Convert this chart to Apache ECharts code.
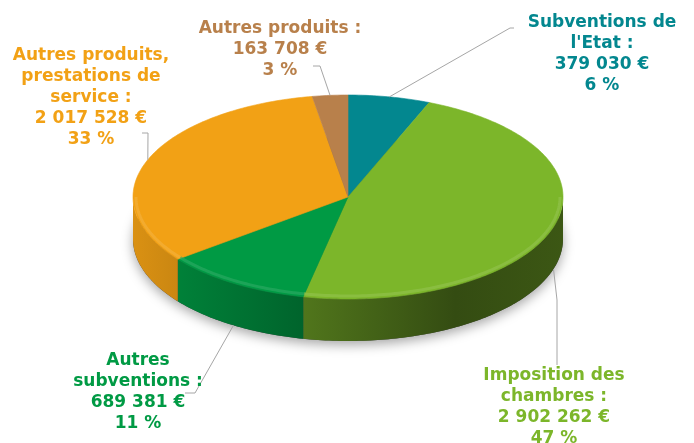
<!DOCTYPE html>
<html>
<head>
<meta charset="utf-8">
<script src="https://cdn.jsdelivr.net/npm/echarts@6/dist/echarts.min.js"></script>
<style>
  html, body { margin: 0; padding: 0; background: #fff; }
  #chart { width: 694px; height: 443px; }
</style>
</head>
<body>
<div id="chart"></div>
<script>
// donnees (sens horaire depuis midi)
const categories = [
  "Subventions de\nl'Etat :",
  'Imposition des\nchambres :',
  'Autres\nsubventions :',
  'Autres produits,\nprestations de\nservice :',
  'Autres produits :'
];
const values = [379030, 2902262, 689381, 2017528, 163708];
const colors = ['#03878f', '#7cb62a', '#009a44', '#f2a115', '#b8804b'];

// mise en page des etiquettes : centre x / haut du texte, coude et fin du trait
const labelPos = [[602, 12], [554, 365], [138, 350], [91, 45], [280, 18]];
const leaderBend = [[510, 28], [557, 300], [195, 393], [148, 133], [320, 66]];
const leaderEnd = [[514, 28], [557, 365], [185, 393], [142, 133], [313, 66]];

// ellipse du camembert 3D
const CX = 348, CY = 197, RX = 215, RY = 102, DEPTH = 42;

const total = values.reduce((a, b) => a + b, 0);
const cum = [];
let acc = 0;
values.forEach(v => { cum.push(acc); acc += v; });

function pt(t, dy, shrink) {
  const r = t * Math.PI / 180;
  const s = shrink || 0;
  return [CX + (RX - s) * Math.sin(r), CY - (RY - s) * Math.cos(r) + (dy || 0)];
}
function arc(t1, t2, dy, shrink) {
  const pts = [];
  const n = Math.max(2, Math.ceil(Math.abs(t2 - t1)));
  for (let i = 0; i <= n; i++) pts.push(pt(t1 + (t2 - t1) * i / n, dy, shrink));
  return pts;
}
function shade(hex, f) {
  const n = parseInt(hex.slice(1), 16);
  const r = Math.round(((n >> 16) & 255) * f);
  const g = Math.round(((n >> 8) & 255) * f);
  const b = Math.round((n & 255) * f);
  return 'rgb(' + r + ',' + g + ',' + b + ')';
}
function lighten(hex, f) {
  const n = parseInt(hex.slice(1), 16);
  const c = [(n >> 16) & 255, (n >> 8) & 255, n & 255].map(x => Math.round(x + (255 - x) * f));
  return 'rgb(' + c.join(',') + ')';
}
function euros(v) {
  return String(v).replace(/\B(?=(\d{3})+(?!\d))/g, ' ') + ' €';
}

function renderItem(params, api) {
  const i = params.dataIndex;
  const v = api.value(0);
  const c = colors[i];
  const t1 = cum[i] / total * 360;
  const t2 = (cum[i] + v) / total * 360;
  const children = [];

  // ombre sous le camembert
  if (i === 0) {
    children.push({
      type: 'polygon',
      z2: -10,
      shape: { points: arc(0, 360, DEPTH) },
      style: { fill: '#444', shadowBlur: 12, shadowOffsetY: 4, shadowColor: 'rgba(0,0,0,0.35)' }
    });
  }

  // flanc visible (partie avant)
  const a = Math.max(t1, 90), b = Math.min(t2, 270);
  if (a < b) {
    children.push({
      type: 'polygon',
      z2: 1,
      shape: { points: arc(a, b, 0).concat(arc(b, a, DEPTH)) },
      style: {
        fill: new echarts.graphic.LinearGradient(CX - RX, 0, CX + RX, 0, [
          { offset: 0, color: shade(c, 0.9) },
          { offset: 0.75, color: shade(c, 0.42) },
          { offset: 1, color: shade(c, 0.48) }
        ], true),
        stroke: null
      }
    });
  }

  // dessus
  children.push({
    type: 'polygon',
    z2: 2,
    shape: { points: [[CX, CY]].concat(arc(t1, t2, 0)) },
    style: { fill: c, stroke: c, lineWidth: 0.6 }
  });

  // reflet sur le bord avant
  if (a < b) {
    children.push({
      type: 'polyline',
      z2: 3,
      shape: { points: arc(a, b, 0, 3) },
      style: { stroke: lighten(c, 0.18), lineWidth: 3, opacity: 0.6, fill: null }
    });
  }

  // trait de rappel
  const mid = (t1 + t2) / 2;
  const front = Math.cos(mid * Math.PI / 180) < 0;
  children.push({
    type: 'polyline',
    z2: 4,
    shape: { points: [pt(mid, front ? DEPTH : 0), leaderBend[i], leaderEnd[i]] },
    style: { stroke: '#a6a6a6', lineWidth: 1, fill: null }
  });

  // etiquette
  const pct = Math.round(v / total * 100);
  children.push({
    type: 'text',
    z2: 5,
    x: labelPos[i][0],
    y: labelPos[i][1],
    style: {
      text: categories[i] + '\n' + euros(v) + '\n' + pct + ' %',
      fill: c,
      font: 'bold 17px "DejaVu Sans", Verdana, sans-serif',
      align: 'center',
      verticalAlign: 'top',
      lineHeight: 21
    }
  });

  return { type: 'group', children: children };
}

const chart = echarts.init(document.getElementById('chart'));
chart.setOption({
  backgroundColor: '#fff',
  animation: false,
  series: [{
    type: 'custom',
    coordinateSystem: 'none',
    renderItem: renderItem,
    data: values.map((v, i) => ({ name: categories[i], value: [v] }))
  }]
});
</script>
</body>
</html>
